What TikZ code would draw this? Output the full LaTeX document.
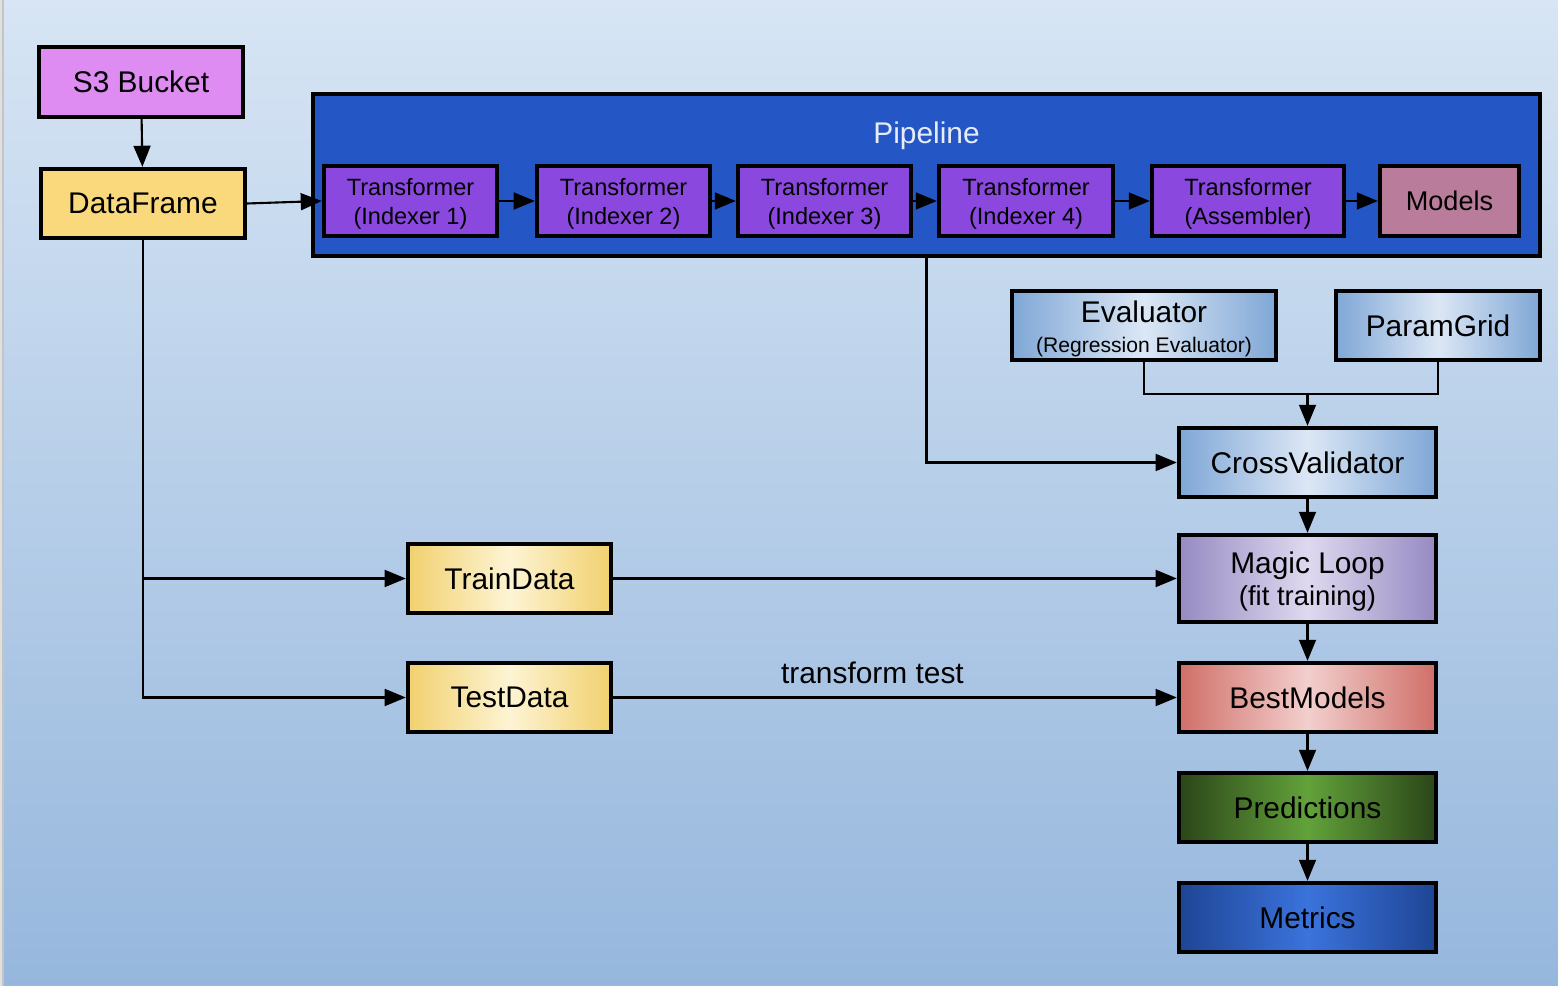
\documentclass[tikz,border=0pt]{standalone}
\usepackage{fontspec}
\setmainfont{Liberation Sans}
\usetikzlibrary{arrows.meta,positioning}

\definecolor{bgtop}{HTML}{D7E5F4}
\definecolor{bgbot}{HTML}{96B7DD}
\definecolor{bucketfill}{HTML}{DE8CF2}
\definecolor{framefill}{HTML}{F9D97C}
\definecolor{pipefill}{HTML}{2457C5}
\definecolor{pipetext}{HTML}{E6ECF8}
\definecolor{trfill}{HTML}{8A48DF}
\definecolor{modelfill}{HTML}{B97D9B}
\definecolor{blueedge}{HTML}{7FA7D6}
\definecolor{bluemid}{HTML}{DCE7F5}
\definecolor{magicedge}{HTML}{968AC2}
\definecolor{magicmid}{HTML}{DED9EF}
\definecolor{bestedge}{HTML}{D06F68}
\definecolor{bestmid}{HTML}{F2CFCD}
\definecolor{prededge}{HTML}{2B4519}
\definecolor{predmid}{HTML}{62A23A}
\definecolor{metedge}{HTML}{1E4594}
\definecolor{metmid}{HTML}{3B73DC}
\definecolor{dataedge}{HTML}{F1D06E}
\definecolor{datamid}{HTML}{FDF4D4}

\begin{document}
\begin{tikzpicture}[
            x=0.01cm, y=-0.01cm,
            box/.style={
                draw=black, line width=1.2pt, inner sep=0pt,
                align=center, font=\fontsize{8.5}{10}\selectfont,
                minimum height=0.69cm,
            },
            tbox/.style={
                box, fill=trfill, minimum height=0.70cm,
                font=\fontsize{6.7}{8.5}\selectfont, text height=15pt,
            },
            grad/.style 2 args={left color=#1, right color=#1, middle color=#2},
            link/.style={line width=0.6pt, -{Triangle[length=6pt,width=4.8pt]}},
            wire/.style={line width=0.6pt},
        ]
        % background
        \useasboundingbox (0, 0) rectangle (1558, 986);
        \shade[top color=bgtop, bottom color=bgbot] (0, 0) rectangle (1558, 986);
        \fill[black!12] (0, 0) rectangle (2, 986);
        \fill[black!23] (2, 0) rectangle (4, 986);

        % sources
        \draw node[box, fill=bucketfill, minimum width=2.04cm, minimum height=0.70cm] (bucket) at (141, 82) {S3 Bucket};
        \draw node[box, fill=framefill, minimum width=2.04cm] (frame) at (143, 203.5) {DataFrame};

        % pipeline
        \draw node[box, fill=pipefill, minimum width=12.27cm, minimum height=1.62cm] (pipe) at (926.5, 175) {};
        \draw node[font=\fontsize{8.5}{10}\selectfont, text=pipetext] (pipename) at (926.5, 135.5) {Pipeline};

        \draw node[tbox, minimum width=1.73cm] (T1) at (410.5, 201) {Transformer\\(Indexer 1)};
        \draw node[tbox, minimum width=1.73cm] (T2) at (623.5, 201) {Transformer\\(Indexer 2)};
        \draw node[tbox, minimum width=1.73cm] (T3) at (824.5, 201) {Transformer\\(Indexer 3)};
        \draw node[tbox, minimum width=1.74cm] (T4) at (1026, 201) {Transformer\\(Indexer 4)};
        \draw node[tbox, minimum width=1.92cm] (T5) at (1248, 201) {Transformer\\(Assembler)};
        \draw node[box, fill=modelfill, minimum width=1.39cm, minimum height=0.70cm, font=\fontsize{7.7}{9}\selectfont] (models) at (1449.5, 201) {Models};

        % tuning
        \draw node[box, grad={blueedge}{bluemid}, text height=16.4pt, minimum width=2.64cm] (eval) at (1144, 325.5)
            {Evaluator\\[-1.6pt]{\fontsize{6}{7}\selectfont (Regression Evaluator)}};
        \draw node[box, grad={blueedge}{bluemid}, minimum width=2.04cm] (grid) at (1438, 325.5) {ParamGrid};
        \coordinate (merge) at (1307.5, 394);

        \draw node[box, grad={blueedge}{bluemid}, minimum width=2.57cm] (cv) at (1307.5, 462.5) {CrossValidator};
        \draw node[box, grad={magicedge}{magicmid}, text height=17.2pt, minimum width=2.57cm, minimum height=0.87cm] (magic) at (1307.5, 578.5)
            {Magic Loop\\[-0.8pt]{\fontsize{7.8}{9}\selectfont (fit training)}};
        \draw node[box, grad={bestedge}{bestmid}, minimum width=2.57cm] (best) at (1307.5, 697.5) {BestModels};
        \draw node[box, grad={prededge}{predmid}, minimum width=2.57cm] (pred) at (1307.5, 807.5) {Predictions};
        \draw node[box, grad={metedge}{metmid}, minimum width=2.57cm] (metrics) at (1307.5, 917.5) {Metrics};

        % split data
        \draw node[box, grad={dataedge}{datamid}, minimum width=2.03cm] (train) at (509.5, 578.5) {TrainData};
        \draw node[box, grad={dataedge}{datamid}, minimum width=2.03cm] (test) at (509.5, 697.5) {TestData};

        % connectors
        \draw[link] (bucket) -- (frame);
        \draw[link] (frame.east) -- (T1.west);
        \draw[link] (T1) -- (T2);
        \draw[link] (T2) -- (T3);
        \draw[link] (T3) -- (T4);
        \draw[link] (T4) -- (T5);
        \draw[link] (T5) -- (models);

        \draw[link] (pipe.south) |- (cv.west);
        \draw[wire] (eval.south) |- (merge) -| (grid.south);
        \draw[link] (merge) -- (cv.north);

        \draw[link] (cv) -- (magic);
        \draw[link] (magic) -- (best);
        \draw[link] (best) -- (pred);
        \draw[link] (pred) -- (metrics);

        \draw[link] (frame.south) |- (train.west);
        \draw[link] (frame.south) |- (test.west);
        \draw[link] (train.east) -- (magic.west);
        \draw[link] (test.east) -- node[pos=0.46, above, inner sep=2pt, yshift=1.7pt, font=\fontsize{8.5}{10}\selectfont] (testlabel) {transform test} (best.west);
    \end{tikzpicture}
\end{document}
